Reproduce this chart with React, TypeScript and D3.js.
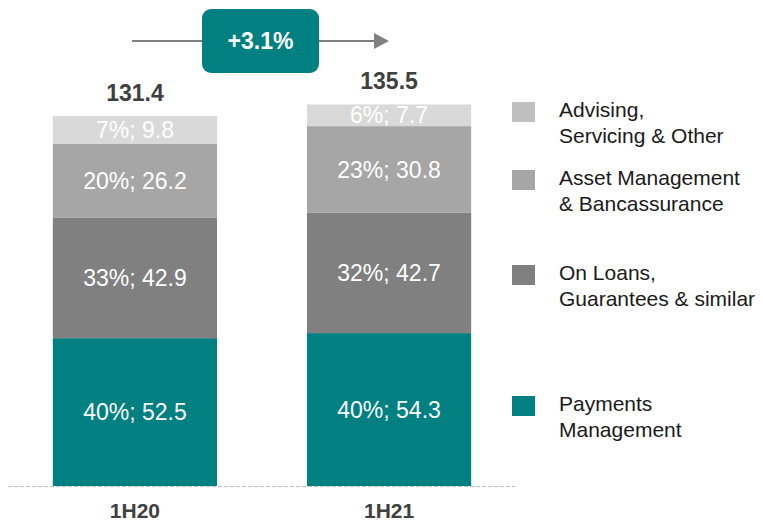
import { useEffect, useRef } from "react";
import * as d3 from "d3";

const periods = ["1H20", "1H21"];
const totals = [131.4, 135.5];
const growthLabel = "+3.1%";

const seriesNames = [
  "Payments Management",
  "On Loans, Guarantees & similar",
  "Asset Management & Bancassurance",
  "Advising, Servicing & Other",
];
const payments = [52.5, 54.3];
const loans = [42.9, 42.7];
const assetMgmt = [26.2, 30.8];
const advising = [9.8, 7.7];
const shares = [
  ["40%", "40%"],
  ["33%", "32%"],
  ["20%", "23%"],
  ["7%", "6%"],
];

const legendLines = [
  ["Payments", "Management"],
  ["On Loans,", "Guarantees & similar"],
  ["Asset Management", "& Bancassurance"],
  ["Advising,", "Servicing & Other"],
];

const barColors = ["#008080", "#808080", "#A6A6A6", "#D9D9D9"];
const legendColors = ["#008080", "#808080", "#A6A6A6", "#BFBFBF"];

const FONT = "'Liberation Sans', Arial, sans-serif";

const App = () => {
  const ref = useRef<SVGSVGElement>(null);

  useEffect(() => {
    const width = 763;
    const height = 523;
    const svg = d3.select(ref.current);
    svg.selectAll("*").remove();
    svg.attr("viewBox", [0, 0, width, height]);

    const x = d3.scaleBand().domain(periods).range([2, 522]).paddingInner(0.354).paddingOuter(0.2);
    const y = d3.scaleLinear().domain([0, 131.4]).range([486, 116]);

    const rows = periods.map((p, i) => ({
      period: p,
      s0: payments[i],
      s1: loans[i],
      s2: assetMgmt[i],
      s3: advising[i],
    }));
    const stacked = d3.stack<any>().keys(["s0", "s1", "s2", "s3"])(rows);

    // baseline
    svg
      .append("line")
      .attr("x1", 8)
      .attr("x2", 515)
      .attr("y1", y(0) + 0.5)
      .attr("y2", y(0) + 0.5)
      .attr("stroke", "#BFBFBF")
      .attr("stroke-width", 1)
      .attr("stroke-dasharray", "4,2");

    const layers = svg
      .append("g")
      .selectAll("g")
      .data(stacked)
      .join("g")
      .attr("fill", (_d, i) => barColors[i]);

    layers
      .selectAll("rect")
      .data((d) => d.map((v) => v))
      .join("rect")
      .attr("x", (d: any) => x(d.data.period)!)
      .attr("width", x.bandwidth())
      .attr("y", (d) => y(d[1]))
      .attr("height", (d) => y(d[0]) - y(d[1]));

    // segment labels
    stacked.forEach((layer, li) => {
      svg
        .append("g")
        .selectAll("text")
        .data(layer)
        .join("text")
        .attr("x", (d: any) => x(d.data.period)! + x.bandwidth() / 2)
        .attr("y", (d) => (y(d[0]) + y(d[1])) / 2 + 2)
        .attr("text-anchor", "middle")
        .attr("dominant-baseline", "middle")
        .attr("fill", "#fff")
        .attr("font-family", FONT)
        .attr("font-size", 23)
        .text((d, i) => `${shares[li][i]}; ${(d[1] - d[0]).toFixed(1)}`);
    });

    // totals
    svg
      .append("g")
      .selectAll("text")
      .data(totals)
      .join("text")
      .attr("x", (_d, i) => x(periods[i])! + x.bandwidth() / 2)
      .attr("y", (d) => y(d) - 15)
      .attr("text-anchor", "middle")
      .attr("fill", "#404040")
      .attr("font-family", FONT)
      .attr("font-weight", "bold")
      .attr("font-size", 23)
      .text((d) => d.toFixed(1));

    // category labels
    svg
      .append("g")
      .selectAll("text")
      .data(periods)
      .join("text")
      .attr("x", (d) => x(d)! + x.bandwidth() / 2)
      .attr("y", 518)
      .attr("text-anchor", "middle")
      .attr("fill", "#404040")
      .attr("font-family", FONT)
      .attr("font-weight", "bold")
      .attr("font-size", 21)
      .text((d) => d);

    // growth arrow
    const ay = 41;
    svg
      .append("line")
      .attr("x1", 132)
      .attr("x2", 376)
      .attr("y1", ay)
      .attr("y2", ay)
      .attr("stroke", "#808080")
      .attr("stroke-width", 2);
    svg
      .append("path")
      .attr("d", `M374,${ay - 8}L389,${ay}L374,${ay + 8}Z`)
      .attr("fill", "#808080");
    svg
      .append("rect")
      .attr("x", 202)
      .attr("y", 9)
      .attr("width", 117)
      .attr("height", 64)
      .attr("rx", 9)
      .attr("fill", "#008080");
    svg
      .append("text")
      .attr("x", 260.5)
      .attr("y", 43)
      .attr("text-anchor", "middle")
      .attr("dominant-baseline", "middle")
      .attr("fill", "#fff")
      .attr("font-family", FONT)
      .attr("font-weight", "bold")
      .attr("font-size", 23)
      .text(growthLabel);

    // legend
    const legendY = [404, 273, 178, 110];
    const legend = svg
      .append("g")
      .selectAll("g")
      .data(seriesNames)
      .join("g")
      .attr("transform", (_d, i) => `translate(512,${legendY[i]})`);
    legend
      .append("rect")
      .attr("x", 0)
      .attr("y", -8)
      .attr("width", 23)
      .attr("height", 20)
      .attr("fill", (_d, i) => legendColors[i]);
    legend.each(function (_d, i) {
      const g = d3.select(this);
      legendLines[i].forEach((line, j) => {
        g.append("text")
          .attr("x", 47)
          .attr("y", j * 26 + 1)
          .attr("dominant-baseline", "middle")
          .attr("fill", "#1a1a1a")
          .attr("font-family", FONT)
          .attr("font-size", 21)
          .text(line);
      });
    });
  }, []);

  return (
    <svg
      ref={ref}
      width={763}
      height={523}
      style={{ position: "absolute", left: 0, top: 0, display: "block" }}
    />
  );
};

export default App;
